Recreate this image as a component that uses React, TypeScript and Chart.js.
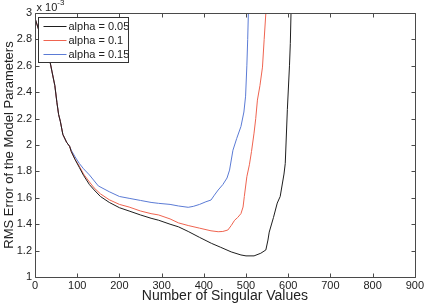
import React, { useEffect, useRef } from "react";
import { Chart, registerables } from "chart.js";
Chart.register(...registerables);

const xTicks = [0, 100, 200, 300, 400, 500, 600, 700, 800, 900];
const yTicks = [1, 1.2, 1.4, 1.6, 1.8, 2, 2.2, 2.4, 2.6, 2.8, 3];
const seriesLabels = ["alpha = 0.05", "alpha = 0.1", "alpha = 0.15"];
const seriesColors = ["#1e1e1e", "#ef6450", "#5b7bd5"];
const exponentBase = "x 10";
const exponentPower = "-3";
const xTitle = "Number of Singular Values";
const yTitle = "RMS Error of the Model Parameters";

const xA = [1, 10, 20, 30, 35, 40, 47, 52, 56, 60, 66, 75, 82, 86, 95, 105, 115, 129, 140, 155, 176, 200, 223, 250, 275, 293, 320, 340, 363, 390, 418, 440, 465, 488, 500, 519, 535, 547, 552, 555, 565, 574, 581, 590, 593, 598, 603, 605, 607];
const yA = [2.95, 2.86, 2.76, 2.68, 2.64, 2.56, 2.45, 2.32, 2.23, 2.18, 2.08, 2.02, 1.99, 1.95, 1.89, 1.83, 1.77, 1.7, 1.66, 1.61, 1.565, 1.525, 1.5, 1.47, 1.445, 1.43, 1.4, 1.38, 1.345, 1.3, 1.255, 1.225, 1.19, 1.167, 1.16, 1.16, 1.18, 1.205, 1.28, 1.34, 1.45, 1.56, 1.61, 1.78, 1.86, 2.27, 2.6, 2.77, 3.05];

const xB = [1, 10, 20, 30, 35, 40, 47, 52, 56, 60, 66, 75, 82, 86, 95, 105, 115, 129, 140, 155, 176, 200, 223, 250, 275, 293, 320, 340, 363, 390, 417, 434, 445, 457, 465, 473, 480, 488, 493, 496, 502, 508, 513, 519, 523, 527, 533, 539, 543, 548];
const yB = [2.95, 2.86, 2.76, 2.68, 2.64, 2.56, 2.45, 2.32, 2.23, 2.18, 2.08, 2.02, 1.99, 1.95, 1.89, 1.84, 1.78, 1.72, 1.675, 1.63, 1.585, 1.55, 1.53, 1.5, 1.48, 1.47, 1.44, 1.41, 1.39, 1.37, 1.35, 1.343, 1.345, 1.356, 1.39, 1.43, 1.45, 1.48, 1.53, 1.61, 1.76, 1.85, 1.95, 2.09, 2.2, 2.34, 2.45, 2.59, 2.8, 3.05];

const xC = [1, 10, 20, 30, 35, 40, 47, 52, 56, 60, 66, 75, 82, 86, 95, 105, 115, 129, 150, 176, 200, 223, 250, 275, 293, 320, 340, 363, 375, 390, 405, 417, 425, 434, 445, 455, 461, 469, 478, 488, 495, 499, 502, 504, 506];
const yC = [2.95, 2.86, 2.76, 2.68, 2.64, 2.56, 2.45, 2.32, 2.23, 2.18, 2.08, 2.02, 1.99, 1.96, 1.91, 1.86, 1.82, 1.773, 1.69, 1.646, 1.61, 1.596, 1.58, 1.565, 1.558, 1.55, 1.538, 1.528, 1.535, 1.55, 1.57, 1.583, 1.62, 1.659, 1.7, 1.75, 1.81, 1.96, 2.05, 2.14, 2.25, 2.37, 2.6, 2.8, 3.05];

const FONT = "'Liberation Sans', Arial, Helvetica, sans-serif";

const toPoints = (xs: number[], ys: number[]) => xs.map((x, i) => ({ x, y: ys[i] }));

const framePlugin = {
  id: "frame",
  afterDraw(chart: any) {
    const { ctx, chartArea } = chart;
    const { left, right, top, bottom } = chartArea;
    const xs = chart.scales.x;
    const ys = chart.scales.y;
    ctx.save();
    ctx.strokeStyle = "#4a4a4a";
    ctx.lineWidth = 1;
    const L = Math.round(left) + 0.5;
    const R = Math.round(right) + 0.5;
    const T = Math.round(top) + 0.5;
    const B = Math.round(bottom) + 0.5;
    ctx.beginPath();
    ctx.rect(L, T, R - L, B - T);
    ctx.stroke();
    const tl = 4;
    ctx.beginPath();
    xTicks.forEach((v) => {
      const p = Math.round(xs.getPixelForValue(v)) + 0.5;
      ctx.moveTo(p, B);
      ctx.lineTo(p, B - tl);
      ctx.moveTo(p, T);
      ctx.lineTo(p, T + tl);
    });
    yTicks.forEach((v) => {
      const p = Math.round(ys.getPixelForValue(v)) + 0.5;
      ctx.moveTo(L, p);
      ctx.lineTo(L + tl, p);
      ctx.moveTo(R, p);
      ctx.lineTo(R - tl, p);
    });
    ctx.stroke();

    // exponent label
    ctx.fillStyle = "#222";
    ctx.textBaseline = "alphabetic";
    ctx.textAlign = "left";
    ctx.font = `11px ${FONT}`;
    ctx.fillText(exponentBase, L + 1, T - 3);
    const w = ctx.measureText(exponentBase).width;
    ctx.font = `8px ${FONT}`;
    ctx.fillText(exponentPower, L + 1 + w, T - 9);

    // legend
    const bx = L + 3;
    const by = T + 4;
    const bw = 90;
    const bh = 45;
    ctx.fillStyle = "#ffffff";
    ctx.fillRect(bx, by, bw, bh);
    ctx.strokeStyle = "#333";
    ctx.strokeRect(bx, by, bw, bh);
    ctx.font = `11px ${FONT}`;
    ctx.textBaseline = "middle";
    chart.data.datasets.forEach((ds: any, i: number) => {
      const yy = Math.round(by + 8 + i * 14.2) + 0.5;
      ctx.strokeStyle = ds.borderColor;
      ctx.beginPath();
      ctx.moveTo(bx + 5, yy);
      ctx.lineTo(bx + 28, yy);
      ctx.stroke();
      ctx.fillStyle = "#222";
      ctx.fillText(ds.label, bx + 30, yy + 0.5);
    });
    ctx.restore();
  },
};

export default function App() {
  const ref = useRef<HTMLCanvasElement | null>(null);
  useEffect(() => {
    if (!ref.current) return;
    const chart = new Chart(ref.current, {
      type: "scatter",
      data: {
        datasets: [
          { label: seriesLabels[0], data: toPoints(xA, yA), borderColor: seriesColors[0] },
          { label: seriesLabels[1], data: toPoints(xB, yB), borderColor: seriesColors[1] },
          { label: seriesLabels[2], data: toPoints(xC, yC), borderColor: seriesColors[2] },
        ].map((d) => ({
          ...d,
          showLine: true,
          pointRadius: 0,
          borderWidth: 1,
          tension: 0,
          fill: false,
          backgroundColor: d.borderColor,
        })),
      },
      options: {
        animation: false,
        responsive: true,
        maintainAspectRatio: false,
        layout: { padding: { top: 13, right: 7, left: 0, bottom: 0 } },
        plugins: { legend: { display: false }, tooltip: { enabled: false } },
        scales: {
          x: {
            type: "linear",
            min: 0,
            max: 900,
            afterBuildTicks: (s: any) => {
              s.ticks = xTicks.map((v) => ({ value: v }));
            },
            afterFit: (s: any) => {
              s.height = 28;
            },
            ticks: {
              color: "#222",
              font: { size: 11, family: FONT },
              padding: 2,
              maxRotation: 0,
              autoSkip: false,
            },
            grid: { display: false, drawTicks: false },
            border: { display: false },
            title: {
              display: true,
              text: xTitle,
              color: "#222",
              font: { size: 14, family: FONT },
              padding: { top: 0, bottom: 0 },
            },
          },
          y: {
            type: "linear",
            min: 1,
            max: 3,
            afterBuildTicks: (s: any) => {
              s.ticks = yTicks.map((v) => ({ value: v }));
            },
            afterFit: (s: any) => {
              s.width = 35;
            },
            ticks: {
              color: "#222",
              font: { size: 11, family: FONT },
              padding: 3,
              autoSkip: false,
              callback: (v: any) => String(Number(Number(v).toFixed(1))),
            },
            grid: { display: false, drawTicks: false },
            border: { display: false },
            title: {
              display: true,
              text: yTitle,
              color: "#222",
              font: { size: 13, family: FONT },
              padding: { top: 2, bottom: 0 },
            },
          },
        },
      },
      plugins: [framePlugin],
    } as any);
    return () => chart.destroy();
  }, []);
  return (
    <div style={{ position: "fixed", left: 0, top: 0, width: 426, height: 305, background: "#fff" }}>
      <canvas ref={ref} />
    </div>
  );
}
